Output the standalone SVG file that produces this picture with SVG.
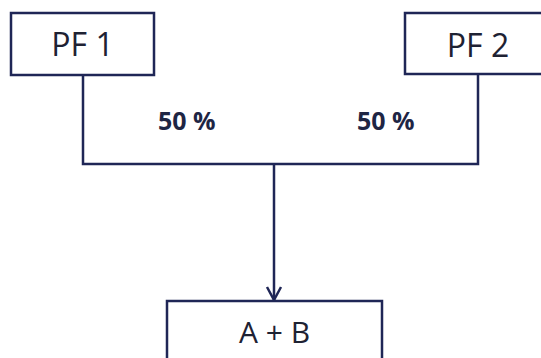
<svg xmlns="http://www.w3.org/2000/svg" width="541" height="358" viewBox="0 0 541 358">
<style>
.box{fill:#ffffff;stroke:#1f2656;stroke-width:2.5}
.lbl{font-family:"Open Sans","Liberation Sans",sans-serif;font-size:32px;fill:#1e2233;text-anchor:middle}
.pct{font-family:"Open Sans","Liberation Sans",sans-serif;font-size:25px;font-weight:bold;fill:#1e2544}
.conn{fill:none;stroke:#1f2656;stroke-width:2.5}
</style>
<defs>
<marker id="arr" markerWidth="16" markerHeight="18" refX="14" refY="8" orient="auto" markerUnits="userSpaceOnUse" viewBox="0 0 16 16">
<path d="M1,1 L14,8 L1,15" fill="none" stroke="#1f2656" stroke-width="2.5"/>
</marker>
</defs>
<rect width="541" height="358" fill="#ffffff"/>
<g id="connectors">
<path class="conn" d="M83,75 V164 H478 V74"/>
<path class="conn" d="M274,164 V300" marker-end="url(#arr)"/>
</g>
<g id="pf1">
<rect class="box" x="11" y="13" width="143" height="62"/>
<text class="lbl" x="82.5" y="56">PF 1</text>
</g>
<g id="pf2">
<rect class="box" x="405" y="13" width="150" height="61"/>
<text class="lbl" x="478" y="57">PF 2</text>
</g>
<g id="ab">
<rect class="box" x="167" y="301" width="215" height="70"/>
<text class="lbl" x="274.5" y="343" style="font-size:30px">A + B</text>
</g>
<g id="labels">
<text class="pct" x="158" y="130">50 %</text>
<text class="pct" x="357" y="130">50 %</text>
</g>
</svg>
